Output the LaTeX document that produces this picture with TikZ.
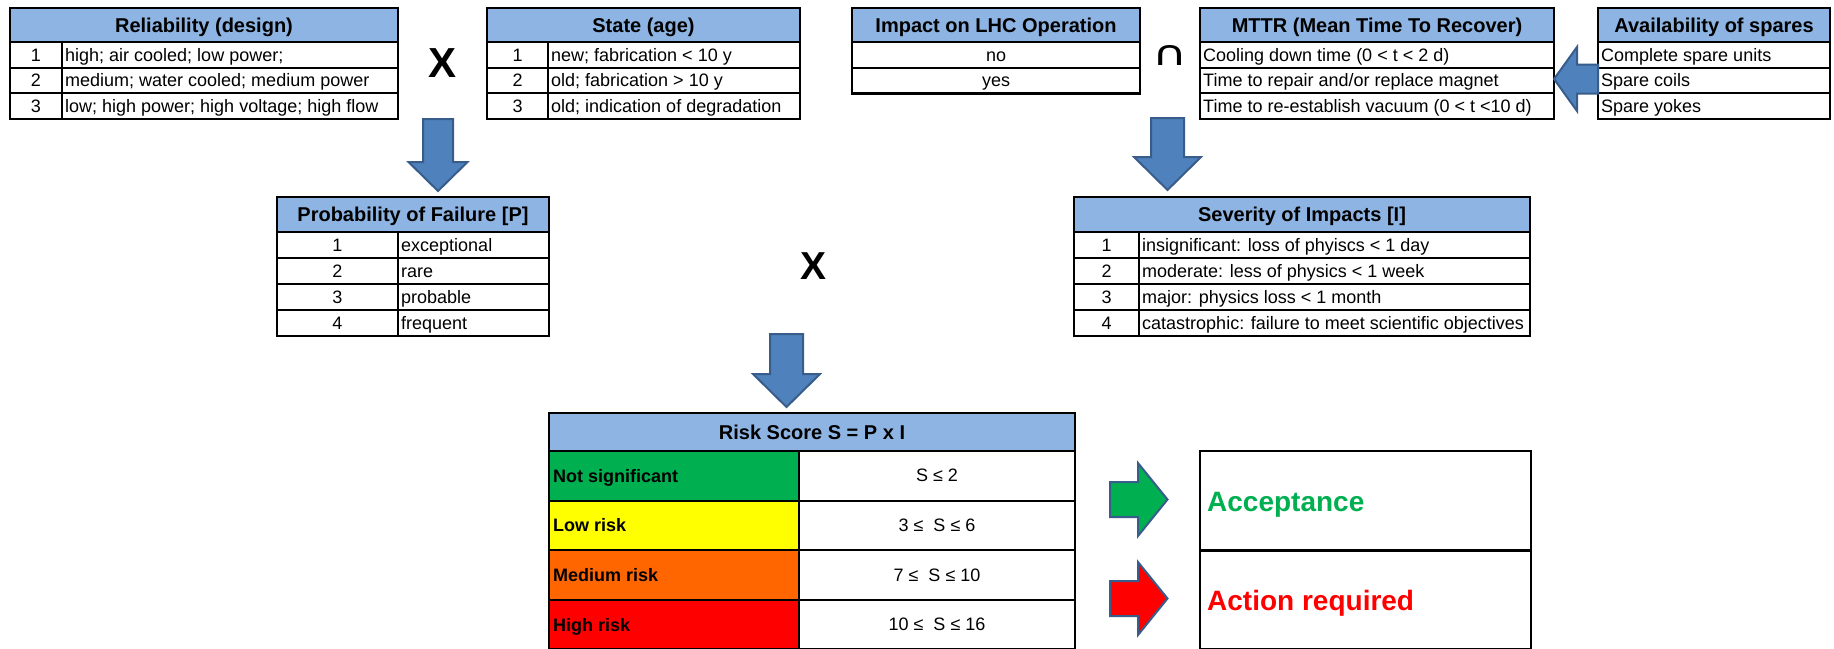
\documentclass[tikz,border=0pt]{standalone}
\usepackage{fontspec}
\setmainfont{Liberation Sans}
\newfontfamily\symbfont{DejaVu Sans}
\definecolor{hdrblue}{HTML}{8DB4E2}
\definecolor{arrowblue}{HTML}{4F81BD}
\definecolor{arrowedge}{HTML}{385D8A}
\definecolor{riskgreen}{HTML}{00B050}
\definecolor{riskyellow}{HTML}{FFFF00}
\definecolor{riskorange}{HTML}{FF6600}
\definecolor{riskred}{HTML}{FF0000}
\tikzset{
  outerline/.style={line width=2.6pt},
  innerline/.style={line width=1.8pt},
  body/.style={font=\fontsize{18}{20}\selectfont, inner sep=0pt},
  bodyb/.style={font=\fontsize{18}{20}\selectfont\bfseries, inner sep=0pt},
  head/.style={font=\fontsize{20}{22}\selectfont\bfseries, inner sep=0pt},
  bigx/.style={font=\fontsize{42}{44}\selectfont\bfseries, inner sep=0pt},
  result/.style={font=\fontsize{28}{30}\selectfont\bfseries, inner sep=0pt},
  blockarrow/.style={fill=arrowblue, draw=arrowedge, line width=2pt, line join=miter},
}
% #1 x1, #2 x2, #3 ytop, #4 yhead, #5 row height, #6 rows
\newcommand\mktable[6]{%
  \fill[hdrblue] (#1,#3) rectangle (#2,#4);
  \foreach \i in {1,...,#6} {\draw[innerline] (#1,{#4+\i*#5}) -- (#2,{#4+\i*#5});}
  \draw[outerline] (#1,#4) -- (#2,#4);
  \draw[outerline] (#1,#3) rectangle (#2,{#4+#6*#5});
}
% down arrow: #1 cx, #2 shaft half, #3 head half, #4 top, #5 head base, #6 tip
\newcommand\mkdarrow[6]{%
  \draw[blockarrow] ({#1-#2},#4) -- ({#1+#2},#4) -- ({#1+#2},#5) -- ({#1+#3},#5)
    -- (#1,#6) -- ({#1-#3},#5) -- ({#1-#2},#5) -- cycle;
}
% horizontal arrow: #1 tail x, #2 head base x, #3 tip x, #4 cy, #5 head half, #6 shaft half
\newcommand\mkharrow[7]{%
  \draw[blockarrow,#7] (#1,{#4-#6}) -- (#2,{#4-#6}) -- (#2,{#4-#5}) -- (#3,#4)
    -- (#2,{#4+#5}) -- (#2,{#4+#6}) -- (#1,{#4+#6}) -- cycle;
}
\begin{document}
\begin{tikzpicture}[x=1pt,y=-1pt]
\useasboundingbox (0,0) rectangle (1834,648);
\fill[white] (0,0) rectangle (1834,648);

% ---------- Reliability ----------
\mktable{10}{398}{8}{42}{25.67}{3}
\draw[innerline] (62,42) -- (62,119);
\node[head,anchor=base] (relh) at (204,32.2) {Reliability (design)};
\node[body,anchor=base] (reln1) at (36,61.2) {1};
\node[body,anchor=base] (reln2) at (36,86.9) {2};
\node[body,anchor=base] (reln3) at (36,112.6) {3};
\node[body,anchor=base west] (relt1) at (65,61.2) {high; air cooled; low power;};
\node[body,anchor=base west] (relt2) at (65,86.9) {medium; water cooled; medium power};
\node[body,anchor=base west] (relt3) at (65,112.6) {low; high power; high voltage; high flow};

\node[bigx,anchor=base] (x1) at (443,77) {X};

% ---------- State ----------
\mktable{487}{800}{8}{42}{25.67}{3}
\draw[innerline] (548,42) -- (548,119);
\node[head,anchor=base] (sth) at (643.5,32.2) {State (age)};
\node[body,anchor=base] (stn1) at (517.5,61.2) {1};
\node[body,anchor=base] (stn2) at (517.5,86.9) {2};
\node[body,anchor=base] (stn3) at (517.5,112.6) {3};
\node[body,anchor=base west] (stt1) at (551,61.2) {new; fabrication < 10 y};
\node[body,anchor=base west] (stt2) at (551,86.9) {old; fabrication > 10 y};
\node[body,anchor=base west] (stt3) at (551,112.6) {old; indication of degradation};

% ---------- Impact on LHC ----------
\mktable{852}{1140}{8}{42}{25.67}{2}
\node[head,anchor=base] (imph) at (996,32.2) {Impact on LHC Operation};
\node[body,anchor=base] (imp1) at (996,61.2) {no};
\node[body,anchor=base] (imp2) at (996,86.9) {yes};

\node[font=\fontsize{48}{50}\selectfont\symbfont, inner sep=0pt] (cap) at (1170,55) {\scalebox{1}[0.72]{∩}};

% ---------- MTTR ----------
\mktable{1200}{1554}{8}{42}{25.67}{3}
\node[head,anchor=base] (mth) at (1377,32.2) {MTTR (Mean Time To Recover)};
\node[body,anchor=base west] (mt1) at (1203,61.2) {Cooling down time (0 < t < 2 d)};
\node[body,anchor=base west] (mt2) at (1203,86.9) {Time to repair and/or replace magnet};
\node[body,anchor=base west] (mt3) at (1203,112.6) {Time to re-establish vacuum (0 < t <10 d)};

% ---------- Availability ----------
\mktable{1598}{1830}{8}{42}{25.67}{3}
\node[head,anchor=base] (avh) at (1714,32.2) {Availability of spares};
\node[body,anchor=base west] (av1) at (1601,61.2) {Complete spare units};
\node[body,anchor=base west] (av2) at (1601,86.9) {Spare coils};
\node[body,anchor=base west] (av3) at (1601,112.6) {Spare yokes};

\mkharrow{1598}{1577}{1554}{79}{32}{14.5}{}

% ---------- Probability of failure ----------
\mkdarrow{438}{15}{29.5}{119}{162}{191}
\mktable{277}{549}{197}{232}{26}{4}
\draw[innerline] (398,232) -- (398,336);
\node[head,anchor=base] (prh) at (413,221.7) {Probability of Failure [P]};
\node[body,anchor=base] (prn1) at (337.5,251.4) {1};
\node[body,anchor=base] (prn2) at (337.5,277.4) {2};
\node[body,anchor=base] (prn3) at (337.5,303.4) {3};
\node[body,anchor=base] (prn4) at (337.5,329.4) {4};
\node[body,anchor=base west] (prt1) at (401,251.4) {exceptional};
\node[body,anchor=base west] (prt2) at (401,277.4) {rare};
\node[body,anchor=base west] (prt3) at (401,303.4) {probable};
\node[body,anchor=base west] (prt4) at (401,329.4) {frequent};

\node[font=\fontsize{39}{41}\selectfont\bfseries, inner sep=0pt, anchor=base] (x2) at (813,279) {X};

% ---------- Severity ----------
\mkdarrow{1167.5}{16.5}{33.5}{118}{157}{190}
\mktable{1074}{1530}{197}{232}{26}{4}
\draw[innerline] (1139,232) -- (1139,336);
\node[head,anchor=base] (svh) at (1302,221.7) {Severity of Impacts [I]};
\node[body,anchor=base] (svn1) at (1106.5,251.4) {1};
\node[body,anchor=base] (svn2) at (1106.5,277.4) {2};
\node[body,anchor=base] (svn3) at (1106.5,303.4) {3};
\node[body,anchor=base] (svn4) at (1106.5,329.4) {4};
\node[body,anchor=base west] (svt1) at (1142,251.4) {insignificant: loss of phyiscs < 1 day};
\node[body,anchor=base west] (svt2) at (1142,277.4) {moderate: less of physics < 1 week};
\node[body,anchor=base west] (svt3) at (1142,303.4) {major: physics loss < 1 month};
\node[body,anchor=base west] (svt4) at (1142,329.4) {catastrophic: failure to meet scientific objectives};

% ---------- Risk score ----------
\mkdarrow{786.5}{16.5}{33.5}{334}{374}{407}
\fill[hdrblue] (549,413) rectangle (1075,451);
\fill[riskgreen] (549,451) rectangle (799,500.6);
\fill[riskyellow] (549,500.6) rectangle (799,550.2);
\fill[riskorange] (549,550.2) rectangle (799,599.8);
\fill[riskred] (549,599.8) rectangle (799,649.4);
\foreach \yy in {500.6,550.2,599.8} {\draw[innerline] (549,\yy) -- (1075,\yy);}
\draw[innerline] (799,451) -- (799,649.4);
\draw[outerline] (549,451) -- (1075,451);
\draw[outerline] (549,413) rectangle (1075,649.4);
\node[head,anchor=base] (rsh) at (812,439.2) {Risk Score S = P x I};
\node[bodyb,anchor=base west] (rs1) at (553,482.2) {Not significant};
\node[bodyb,anchor=base west] (rs2) at (553,531.8) {Low risk};
\node[bodyb,anchor=base west] (rs3) at (553,581.4) {Medium risk};
\node[bodyb,anchor=base west] (rs4) at (553,631) {High risk};
\node[body,anchor=base] (rv1) at (937,481) {S ≤ 2};
\node[body,anchor=base] (rv2) at (937,531) {3 ≤\ \ S ≤ 6};
\node[body,anchor=base] (rv3) at (937,581) {7 ≤\ \ S ≤ 10};
\node[body,anchor=base] (rv4) at (937,630) {10 ≤\ \ S ≤ 16};

% ---------- Outcome ----------
\mkharrow{1110}{1138}{1167.5}{499.5}{36.5}{17.5}{fill=riskgreen}
\mkharrow{1110}{1138}{1167.5}{598.5}{36.5}{17.5}{fill=riskred}
\draw[outerline] (1200,451) rectangle (1531,649.4);
\draw[outerline] (1200,550.2) -- (1531,550.2);
\node[result,anchor=base west,text=riskgreen] (acc) at (1207,511) {Acceptance};
\node[result,anchor=base west,text=riskred] (act) at (1207,610) {Action required};
\end{tikzpicture}
\end{document}
